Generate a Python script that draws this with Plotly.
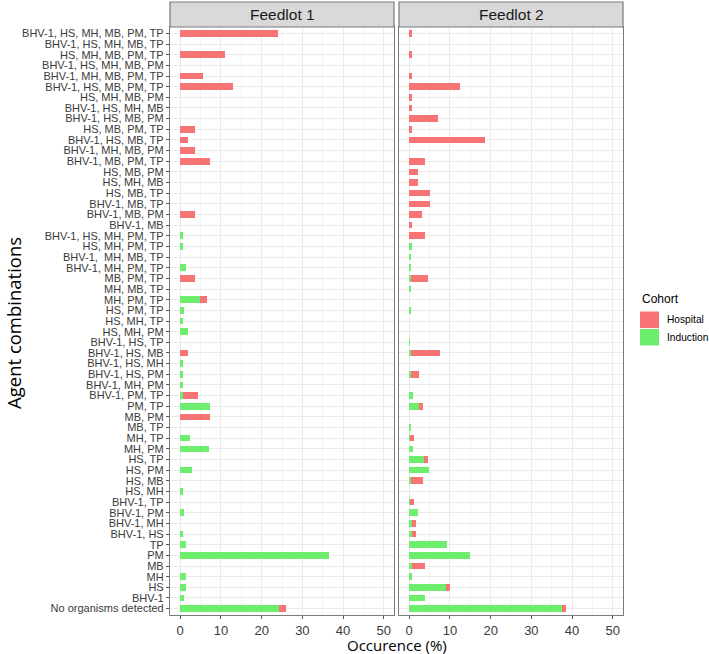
import plotly.graph_objects as go

# Categories, top to bottom as displayed
categories = [
    "BHV-1, HS, MH, MB, PM, TP", "BHV-1, HS, MH, MB, TP", "HS, MH, MB, PM, TP",
    "BHV-1, HS, MH, MB, PM", "BHV-1, MH, MB, PM, TP", "BHV-1, HS, MB, PM, TP",
    "HS, MH, MB, PM", "BHV-1, HS, MH, MB", "BHV-1, HS, MB, PM", "HS, MB, PM, TP",
    "BHV-1, HS, MB, TP", "BHV-1, MH, MB, PM", "BHV-1, MB, PM, TP", "HS, MB, PM",
    "HS, MH, MB", "HS, MB, TP", "BHV-1, MB, TP", "BHV-1, MB, PM", "BHV-1, MB",
    "BHV-1, HS, MH, PM, TP", "HS, MH, PM, TP", "BHV-1,  MH, MB, TP",
    "BHV-1, MH, PM, TP", "MB, PM, TP", "MH, MB, TP", "MH, PM, TP", "HS, PM, TP",
    "HS, MH, TP", "HS, MH, PM", "BHV-1, HS, TP", "BHV-1, HS, MB", "BHV-1, HS, MH",
    "BHV-1, HS, PM", "BHV-1, MH, PM", "BHV-1, PM, TP", "PM, TP", "MB, PM",
    "MB, TP", "MH, TP", "MH, PM", "HS, TP", "HS, PM", "HS, MB", "HS, MH",
    "BHV-1, TP", "BHV-1, PM", "BHV-1, MH", "BHV-1, HS", "TP", "PM", "MB", "MH",
    "HS", "BHV-1", "No organisms detected",
]

f1_induction = [0, 0, 0, 0, 0, 0, 0, 0, 0, 0, 0, 0, 0, 0, 0, 0, 0, 0, 0,
                0.6, 0.6, 0, 1.5, 0, 0, 4.85, 1.0, 0.6, 1.9, 0, 0, 0.6, 0.6, 0.6,
                0.75, 7.4, 0, 0, 2.3, 7.0, 0, 2.9, 0, 0.6, 0, 1.0, 0, 0.6, 1.5,
                36.6, 0, 1.5, 1.5, 1.0, 24.2]
f1_hospital = [24.0, 0, 11.1, 0, 5.6, 13.0, 0, 0, 0, 3.7, 1.9, 3.7, 7.4, 0, 0, 0,
               0, 3.7, 0, 0, 0, 0, 0, 3.7, 0, 1.8, 0, 0, 0, 0, 1.9, 0, 0, 0, 3.6,
               0, 7.4, 0, 0, 0, 0, 0, 0, 0, 0, 0, 0, 0, 0, 0, 0, 0, 0, 0, 1.9]
f2_induction = [0, 0, 0, 0, 0, 0, 0, 0, 0, 0, 0, 0, 0, 0, 0, 0, 0, 0, 0,
                0, 0.8, 0.3, 0.3, 0.4, 0.3, 0, 0.3, 0, 0, 0.2, 0.4, 0, 0.4, 0,
                1.0, 2.5, 0, 0.25, 0.3, 1.0, 3.7, 4.95, 0.4, 0, 0.3, 2.1, 0.8,
                0.8, 9.4, 14.85, 0.8, 0.8, 9.1, 4.0, 37.4]
f2_hospital = [0.75, 0, 0.75, 0, 0.75, 12.4, 0.75, 0.75, 7.0, 0.75, 18.6, 0, 4.0,
               2.1, 2.1, 5.1, 5.1, 3.05, 0.8, 4.0, 0, 0, 0, 4.1, 0, 0, 0, 0, 0,
               0, 7.2, 0, 2.1, 0, 0, 1.0, 0, 0, 0.95, 0, 0.8, 0, 3.1, 0, 0.8, 0,
               0.8, 0.8, 0, 0, 3.1, 0, 1.0, 0, 1.0]

panels = ["Feedlot 1", "Feedlot 2"]
x_ticks = [0, 10, 20, 30, 40, 50]
cohorts = ["Hospital", "Induction"]

RED = "#F87474"
GREEN = "#6EEE6E"
GRID = "#EBEBEB"
BORDER = "#7A7A7A"
TICKFONT = dict(family="Liberation Sans, Arial", size=11, color="#3A3A3A")

fig = go.Figure()
series = [
    ("x", "y", f1_induction, f1_hospital),
    ("x2", "y2", f2_induction, f2_hospital),
]
for xa, ya, ind, hos in series:
    fig.add_trace(go.Bar(y=categories, x=ind, orientation="h", name="Induction",
                         marker=dict(color=GREEN, line=dict(width=0)),
                         width=0.62, xaxis=xa, yaxis=ya, showlegend=False))
    fig.add_trace(go.Bar(y=categories, x=hos, orientation="h", name="Hospital",
                         marker=dict(color=RED, line=dict(width=0)),
                         width=0.62, xaxis=xa, yaxis=ya, showlegend=False))

W, H = 709, 654
L, R, T, B = 170, 86, 27, 39
pw = W - L - R
ph = H - T - B
gap = 5
d1 = [0, (pw - gap) / 2 / pw]
d2 = [1 - (pw - gap) / 2 / pw, 1]

xcommon = dict(range=[-2.5, 52.5], tickvals=x_ticks, ticktext=[str(v) for v in x_ticks],
               showgrid=True, gridcolor=GRID, gridwidth=1,
               minor=dict(dtick=5, tick0=5, showgrid=True, gridcolor="#F4F4F4", gridwidth=0.6),
               zeroline=False, showline=True, mirror=True, linecolor=BORDER, linewidth=1.2,
               ticks="outside", ticklen=3, tickcolor="#555555", tickwidth=1,
               tickfont=dict(family="Liberation Sans, Arial", size=13, color="#3A3A3A"))
ycommon = dict(categoryorder="array", categoryarray=categories[::-1],
               range=[-0.6, len(categories) - 0.4],
               tickmode="array", tickvals=categories, ticktext=categories,
               showgrid=True, gridcolor=GRID, gridwidth=1, zeroline=False,
               showline=True, mirror=True, linecolor=BORDER, linewidth=1.2)

fig.update_layout(
    width=W, height=H,
    margin=dict(l=L, r=R, t=T, b=B, autoexpand=False),
    barmode="stack",
    plot_bgcolor="white", paper_bgcolor="white",
    xaxis=dict(domain=d1, anchor="y", **xcommon),
    xaxis2=dict(domain=d2, anchor="y2", **xcommon),
    yaxis=dict(anchor="x", ticks="outside", ticklen=3, tickcolor="#555555",
               tickfont=TICKFONT, **ycommon),
    yaxis2=dict(anchor="x2", matches="y", showticklabels=False, ticks="", **ycommon),
    showlegend=False,
)

def py(p):  # pixel y -> paper y
    return (H - B - p) / ph

def px(p):  # pixel x -> paper x
    return (p - L) / pw

# Facet strips
for name, dom in zip(panels, [d1, d2]):
    fig.add_shape(type="rect", xref="paper", yref="paper",
                  x0=dom[0], x1=dom[1], y0=1, y1=py(2),
                  fillcolor="#D9D9D9", line=dict(color=BORDER, width=1.2), layer="above")
    fig.add_annotation(xref="paper", yref="paper", x=(dom[0] + dom[1]) / 2, y=py(14.5),
                       text=name, showarrow=False, xanchor="center", yanchor="middle",
                       font=dict(family="Liberation Sans, Arial", size=15.5, color="#1A1A1A"))

# Axis titles
fig.add_annotation(xref="paper", yref="paper", x=px(396.5), y=py(644.5),
                   text="Occurence (%)", showarrow=False, xanchor="center", yanchor="middle",
                   font=dict(family="Open Sans", size=15, color="#000000"))
fig.add_annotation(xref="paper", yref="paper", x=px(13), y=py(323),
                   text="Agent combinations", showarrow=False, textangle=-90,
                   xanchor="center", yanchor="middle",
                   font=dict(family="Open Sans", size=18.5, color="#000000"))

# Legend
fig.add_annotation(xref="paper", yref="paper", x=px(640), y=py(299),
                   text="Cohort", showarrow=False, xanchor="left", yanchor="middle",
                   font=dict(family="Liberation Sans, Arial", size=12, color="#000000"))
for name, col, y0, y1 in [(cohorts[0], RED, 311.5, 328), (cohorts[1], GREEN, 329, 345.5)]:
    fig.add_shape(type="rect", xref="paper", yref="paper",
                  x0=px(640), x1=px(659), y0=py(y0), y1=py(y1),
                  fillcolor=col, line=dict(width=0))
    fig.add_annotation(xref="paper", yref="paper", x=px(665), y=py((y0 + y1) / 2),
                       text=name, showarrow=False, xanchor="left", yanchor="middle",
                       font=dict(family="Liberation Sans, Arial", size=10.2, color="#000000"))

fig.write_html("out.html",
               config={"displayModeBar": False},
               post_script="document.body.style.margin='0';"
                           "document.documentElement.style.overflow='hidden';")
